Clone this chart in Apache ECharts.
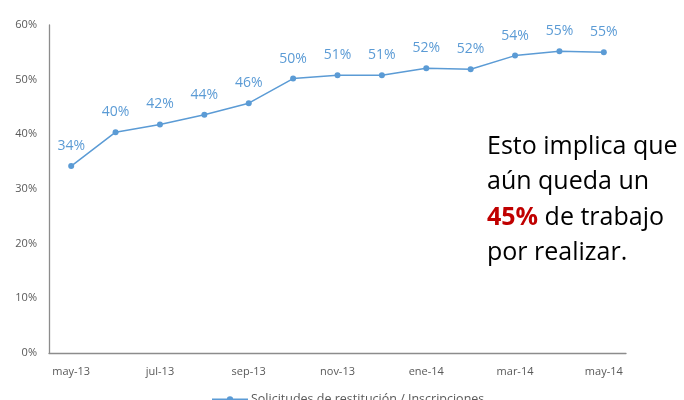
<!DOCTYPE html>
<html>
<head>
<meta charset="utf-8">
<script src="https://cdn.jsdelivr.net/npm/echarts@6/dist/echarts.min.js"></script>
<style>
  html, body { margin: 0; padding: 0; background: #fff; }
  #chart { width: 684px; height: 400px; }
</style>
</head>
<body>
<div id="chart"></div>
<script>
// meses (eje x)
var months = ["may-13", "jun-13", "jul-13", "ago-13", "sep-13", "oct-13", "nov-13",
              "dic-13", "ene-14", "feb-14", "mar-14", "abr-14", "may-14"];
// Solicitudes de restitución / Inscripciones (%)
var ratio = [34.2, 40.4, 41.8, 43.6, 45.7, 50.2, 50.8, 50.8, 52.1, 51.9, 54.4, 55.2, 55.0];
var seriesName = "Solicitudes de restitución / Inscripciones";
var yTicks = [0, 10, 20, 30, 40, 50, 60];

var chart = echarts.init(document.getElementById("chart"));
var axisFont = "'Open Sans', sans-serif";

chart.setOption({
	animation: false,
	grid: { left: 49, right: 58, top: 25, bottom: 47 },
	xAxis: {
		type: "category",
		data: months,
		boundaryGap: true,
		axisLine: { lineStyle: { color: "#8c8c8c", width: 1.3 } },
		axisTick: { show: false },
		axisLabel: { interval: 1, margin: 13, color: "#595959", fontSize: 11, fontFamily: axisFont }
	},
	yAxis: {
		type: "value",
		min: yTicks[0],
		max: yTicks[yTicks.length - 1],
		interval: 10,
		axisLine: { show: true, lineStyle: { color: "#8c8c8c", width: 1.3 } },
		axisTick: { show: false },
		splitLine: { show: false },
		axisLabel: { margin: 12, color: "#595959", fontSize: 11, fontFamily: axisFont,
			formatter: function(v){ return v + "%"; } }
	},
	legend: {
		top: 388,
		left: 206,
		itemWidth: 36,
		itemHeight: 8,
		itemGap: 4,
		textStyle: { color: "#595959", fontSize: 12.5, fontFamily: axisFont, padding: [0, 0, 0, -2] },
		data: [seriesName]
	},
	series: [{
		name: seriesName,
		type: "line",
		data: ratio,
		symbol: "circle",
		symbolSize: 6,
		color: "#5b9bd5",
		lineStyle: { width: 1.5, color: "#5b9bd5" },
		label: {
			show: true,
			position: "top",
			distance: 10,
			color: "#5b9bd5",
			fontSize: 14,
			fontFamily: axisFont,
			formatter: function(p){ return Math.round(p.value) + "%"; }
		}
	}],
	graphic: [{
		type: "text",
		left: 487,
		top: 129,
		style: {
			text: "Esto implica que\naún queda un\n{red|45%} de trabajo\npor realizar.",
			font: "25px 'Open Sans', sans-serif",
			fill: "#000",
			lineHeight: 35.5,
			rich: {
				red: { fill: "#c00000", fontWeight: "bold", fontSize: 25, fontFamily: "'Open Sans', sans-serif", lineHeight: 35.5 }
			}
		}
	}]
});
</script>
</body>
</html>
